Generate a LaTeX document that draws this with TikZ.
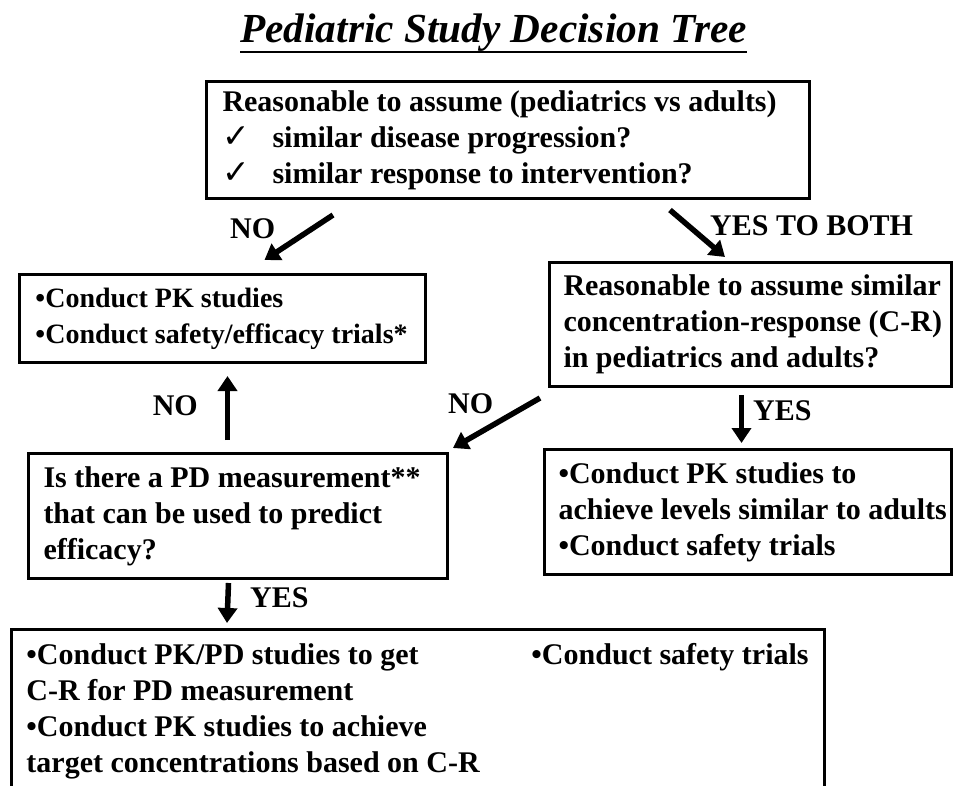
\documentclass[tikz,border=0pt]{standalone}
\usepackage{fontspec}
\setmainfont{Liberation Serif}
\newfontfamily\symfont{DejaVu Sans}
\usetikzlibrary{arrows.meta}
\newcommand\boxtext[3]{\makebox[#1][l]{\hspace*{#2}\begin{tabular}{@{}l@{}}#3\end{tabular}}}
\newcommand\chk{\makebox[50pt][l]{\symfont\fontsize{33}{36}\selectfont ✓}}
\begin{document}
\begin{tikzpicture}[x=1pt,y=-1pt,
  box/.style={draw, line width=3pt, rectangle, anchor=north west, inner sep=0pt,
    font=\bfseries\fontsize{30}{36}\selectfont},
  lbl/.style={anchor=base west, inner sep=0pt, font=\bfseries\fontsize{30}{36}\selectfont},
  arr/.style={line width=5.5pt, -{Triangle[length=15pt,width=19pt]}}
]
\useasboundingbox (0,0) rectangle (959,785);
\clip (0,0) rectangle (959,785);
\fill[white] (0,0) rectangle (959,785);

% title
\node[anchor=base west, inner sep=0pt, font=\bfseries\itshape\fontsize{41.3}{48}\selectfont]
  (title) at (240,42) {Pediatric Study Decision Tree};
\draw[line width=2.5pt] ([shift={(0,10)}]title.base west) -- ([shift={(0,10)}]title.base east);

% boxes
\node[box, minimum width=603, minimum height=117] (b1) at (205,80)
  {\boxtext{603pt}{16pt}{Reasonable to assume (pediatrics vs adults)\\
   \chk similar disease progression?\\
   \chk similar response to intervention?}};

\node[box, minimum width=406, minimum height=88, font=\bfseries\fontsize{28}{36}\selectfont] (b2) at (18,273)
  {\boxtext{406pt}{16pt}{•Conduct PK studies\\ •Conduct safety/efficacy trials*}};

\node[box, minimum width=402, minimum height=124] (b3) at (548,261)
  {\boxtext{402pt}{14pt}{Reasonable to assume similar\\ concentration-response (C-R)\\ in pediatrics and adults?}};

\node[box, minimum width=419, minimum height=125] (b4) at (27,452)
  {\boxtext{419pt}{15pt}{Is there a PD measurement**\\ that can be used to predict\\ efficacy?}};

\node[box, minimum width=407, minimum height=125] (b5) at (543,448)
  {\boxtext{407pt}{14pt}{•Conduct PK studies to\\ achieve levels similar to adults\\ •Conduct safety trials}};

\node[box, inner ysep=9.8pt, text depth=200pt] (b6) at (10,628)
  {\makebox[813pt][l]{\hspace*{15pt}\makebox[505pt][l]{\begin{tabular}[t]{@{}l@{}}•Conduct PK/PD studies to get\\ C-R for PD measurement\\ •Conduct PK studies to achieve\\ target concentrations based on C-R\end{tabular}}\begin{tabular}[t]{@{}l@{}}•Conduct safety trials\end{tabular}}};

% connectors
\draw[arr] ([shift={(128,15)}]b1.south west) -- ([shift={(42,-13)}]b2.north);
\draw[arr] ([shift={(-141,10)}]b1.south east) -- ([shift={(177,-4)}]b3.north west);
\draw[arr] ([shift={(-8,10)}]b3.south west) -- ([shift={(4,-4)}]b4.north east);
\draw[arr] ([shift={(-10.5,-12)}]b4.north) -- ([shift={(5,12)}]b2.south);
\draw[arr] ([shift={(-9,7)}]b3.south) -- ([shift={(-6.5,-5)}]b5.north);
\draw[arr] ([shift={(-9.5,3)}]b4.south) -- ([shift={(217,-5)}]b6.north west);

% labels
\node[lbl] (no1) at (230,238) {NO};
\node[lbl] (ytb) at (710,235) {YES TO BOTH};
\node[lbl] (no3) at (448,413) {NO};
\node[lbl, anchor=base east] (no4) at (198,415) {NO};
\node[lbl] (yes5) at (753,420) {YES};
\node[lbl] (yes6) at (250,607) {YES};
\end{tikzpicture}
\end{document}
